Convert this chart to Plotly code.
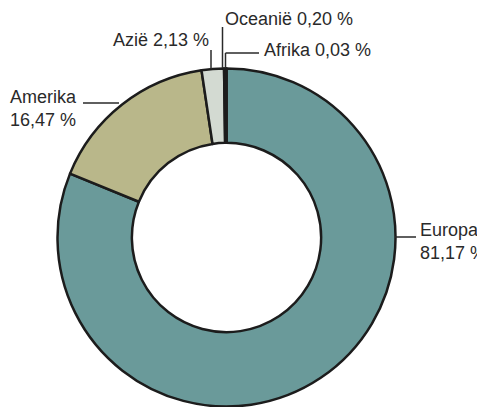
import plotly.graph_objects as go

# the page body adds an 8px margin; lay out in reference pixels and shift
OFF = 8
W, H = 485 - OFF, 407 - OFF

regions = ["Europa", "Amerika", "Azië", "Oceanië", "Afrika"]
shares = [81.17, 16.47, 2.13, 0.20, 0.03]
share_labels = ["81,17 %", "16,47 %", "2,13 %", "0,20 %", "0,03 %"]
colors = ["#6a9a9a", "#b9b78a", "#d3dad2", "#eaa56a", "#8a5a3a"]

def px(x):
    return (x - OFF) / W

def py(y):
    return 1 - (y - OFF) / H

cx, cy, R = 226.5, 237.5, 169

fig = go.Figure(go.Pie(
    labels=regions,
    values=shares,
    sort=False,
    direction="clockwise",
    rotation=0,
    hole=0.56,
    textinfo="none",
    hoverinfo="label+percent",
    marker=dict(colors=colors, line=dict(color="#1c1c1c", width=2.5)),
    domain=dict(x=[px(cx - R), px(cx + R)], y=[max(0, py(cy + R)), py(cy - R)]),
    showlegend=False,
))

font = dict(family="Liberation Sans, Arial, sans-serif", size=18, color="#2a2a2a")

label_pos = {
    "Europa": (418, 241),
    "Amerika": (8, 109),
    "Azië": (111, 40),
    "Oceanië": (223, 19),
    "Afrika": (262, 50),
}
two_line = {"Europa", "Amerika"}

anns = []
for name, lab in zip(regions, share_labels):
    x, y = label_pos[name]
    text = f"{name}<br>{lab}" if name in two_line else f"{name} {lab}"
    anns.append(dict(x=px(x), y=py(y), xref="paper", yref="paper", text=text,
                     showarrow=False, xanchor="left", yanchor="middle",
                     align="left", font=font))

leaders = [
    [(395, 237), (416, 237)],
    [(83, 103), (119, 103)],
    [(211, 50), (211, 69)],
    [(222.5, 27), (222.5, 68)],
    [(225.5, 68), (225.5, 53), (259, 53)],
]
shapes = []
for pts in leaders:
    for (x0, y0), (x1, y1) in zip(pts[:-1], pts[1:]):
        shapes.append(dict(type="line", xref="paper", yref="paper",
                           x0=px(x0), y0=py(y0), x1=px(x1), y1=py(y1),
                           line=dict(color="#2a2a2a", width=1.5)))

fig.update_layout(
    width=W, height=H,
    margin=dict(l=0, r=0, t=0, b=0),
    paper_bgcolor="white", plot_bgcolor="white",
    annotations=anns, shapes=shapes,
)

fig.write_html("out.html")
